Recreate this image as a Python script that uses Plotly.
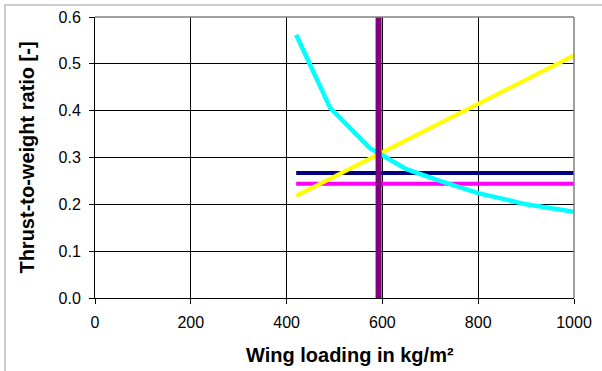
import plotly.graph_objects as go

# Data
purple_x = [592, 592]
purple_y = [0.0, 0.6]
navy_x = [420, 1000]
navy_y = [0.267, 0.267]
magenta_x = [420, 1000]
magenta_y = [0.244, 0.244]
yellow_x = [420, 1000]
yellow_y = [0.218, 0.518]
cyan_x = [420, 491, 574, 650, 720, 800, 900, 1000]
cyan_y = [0.562, 0.406, 0.320, 0.275, 0.250, 0.224, 0.200, 0.184]

x_ticks = [0, 200, 400, 600, 800, 1000]
y_ticks = [0.0, 0.1, 0.2, 0.3, 0.4, 0.5, 0.6]

fig = go.Figure()
fig.add_trace(go.Scatter(x=navy_x, y=navy_y, mode="lines", line=dict(color="#000080", width=4)))
fig.add_trace(go.Scatter(x=magenta_x, y=magenta_y, mode="lines", line=dict(color="#FF00FF", width=4)))
fig.add_trace(go.Scatter(x=yellow_x, y=yellow_y, mode="lines", line=dict(color="#FFFF00", width=4)))
fig.add_trace(go.Scatter(x=cyan_x, y=cyan_y, mode="lines", line=dict(color="#00FFFF", width=4.5)))
fig.add_trace(go.Scatter(x=purple_x, y=purple_y, mode="lines", line=dict(color="#800080", width=6)))

font = "Liberation Sans, Arial, sans-serif"
fig.update_layout(
    width=602, height=371,
    margin=dict(l=95, r=28, t=17, b=73, autoexpand=False),
    paper_bgcolor="white", plot_bgcolor="white",
    showlegend=False, hovermode=False,
    font=dict(family=font, size=16, color="black"),
    xaxis=dict(range=[0, 1000], tickvals=x_ticks, ticktext=[str(v) for v in x_ticks],
               showgrid=True, gridcolor="black", gridwidth=1,
               showline=True, linecolor="black", linewidth=1, mirror=False,
               ticks="outside", ticklen=5, tickcolor="black", zeroline=False,
               tickfont=dict(size=16), ticklabelstandoff=5),
    yaxis=dict(range=[0, 0.6], tickvals=y_ticks, ticktext=[f"{v:.1f}" for v in y_ticks],
               showgrid=True, gridcolor="black", gridwidth=1,
               showline=True, linecolor="black", linewidth=1,
               ticks="outside", ticklen=5, tickcolor="black", zeroline=False,
               tickfont=dict(size=16), ticklabelstandoff=5,
               title=dict(text="<b>Thrust-to-weight ratio [-]</b>", font=dict(size=20), standoff=18)),
    annotations=[
        dict(text="<b>Wing loading in kg/m²</b>", xref="paper", yref="paper",
             x=0.532, y=-0.203, xanchor="center", yanchor="middle", showarrow=False,
             font=dict(size=20)),
    ],
    shapes=[
        dict(type="line", xref="paper", yref="paper", x0=0, x1=1, y0=1, y1=1,
             line=dict(color="#808080", width=1.5)),
        dict(type="line", xref="paper", yref="paper", x0=1, x1=1, y0=0, y1=1,
             line=dict(color="#808080", width=1.5)),
        dict(type="rect", xref="paper", yref="paper", x0=-0.188, x1=1.2, y0=-0.4, y1=1.043,
             line=dict(color="#BDBDBD", width=1.5)),
    ],
)
fig.write_html("out.html", config={"displayModeBar": False, "staticPlot": True},
               post_script="document.body.style.margin='0';")
